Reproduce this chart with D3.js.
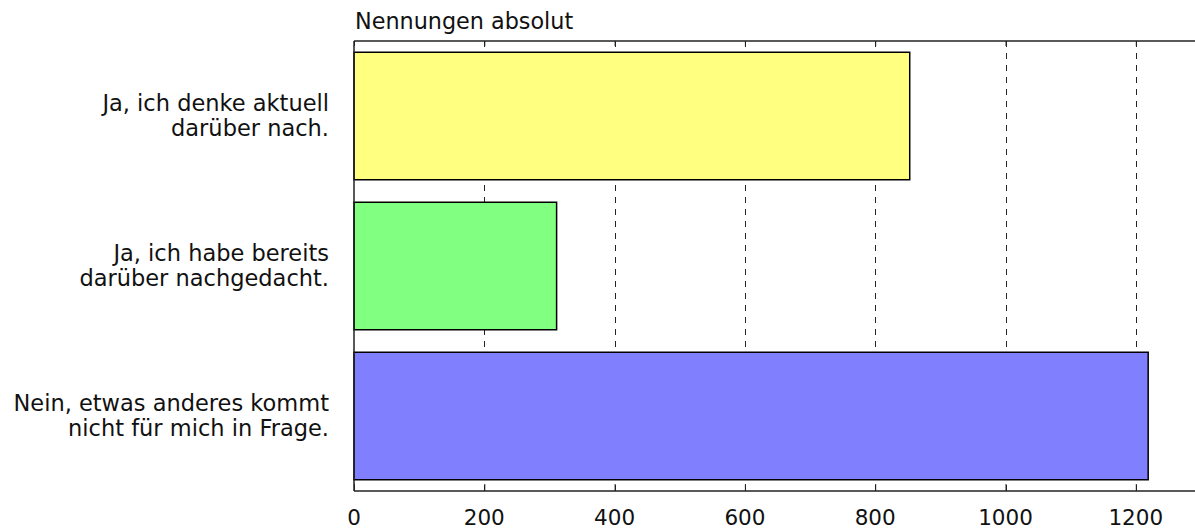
<!DOCTYPE html>
<html>
<head>
<meta charset="utf-8">
<script src="https://cdn.jsdelivr.net/npm/d3@7"></script>
<style>
  body { margin: 0; background: #fff; }
  text { font-family: "DejaVu Sans", Verdana, sans-serif; fill: #111; }
</style>
</head>
<body>
<svg id="chart" width="1195" height="531"></svg>
<script>
// answer categories (two text lines each)
const categories = [
  ["Ja, ich denke aktuell", "darüber nach."],
  ["Ja, ich habe bereits", "darüber nachgedacht."],
  ["Nein, etwas anderes kommt", "nicht für mich in Frage."]
];
const counts = [853, 311, 1219];
const barColors = ["#ffff80", "#80ff80", "#8080ff"];
const tickValues = [0, 200, 400, 600, 800, 1000, 1200];
const axisTitle = "Nennungen absolut";

const svg = d3.select("#chart");
const plotLeft = 354, plotTop = 41, plotBottom = 491;

const xScale = d3.scaleLinear().domain([0, 1300]).range([plotLeft, plotLeft + 1300 * 0.6515]);
const yScale = d3.scaleBand()
    .domain(d3.range(categories.length))
    .range([plotTop, plotBottom])
    .paddingInner(0.15)
    .paddingOuter(0.075);

// dashed grid lines behind the bars
svg.selectAll(".grid")
    .data(tickValues.filter(d => d > 0))
    .enter()
    .append("line")
    .attr("class", "grid")
    .attr("x1", d => Math.round(xScale(d)) + 0.5)
    .attr("x2", d => Math.round(xScale(d)) + 0.5)
    .attr("y1", plotTop)
    .attr("y2", plotBottom)
    .style("stroke", "#222")
    .style("stroke-width", 1)
    .style("stroke-dasharray", "6,6");

// bars
svg.selectAll(".bar")
    .data(counts)
    .enter()
    .append("rect")
    .attr("class", "bar")
    .attr("x", xScale(0))
    .attr("y", (d, i) => yScale(i))
    .attr("width", d => xScale(d) - xScale(0))
    .attr("height", yScale.bandwidth())
    .style("fill", (d, i) => barColors[i])
    .style("stroke", "#000")
    .style("stroke-width", 1.5);

// frame lines: top, bottom, left
const axisLines = [
  [xScale(0), plotTop, 1195, plotTop],
  [xScale(0), plotBottom, 1195, plotBottom],
  [xScale(0), plotTop, xScale(0), plotBottom]
];
svg.selectAll(".frame")
    .data(axisLines)
    .enter()
    .append("line")
    .attr("x1", d => d[0]).attr("y1", d => d[1])
    .attr("x2", d => d[2]).attr("y2", d => d[3])
    .style("stroke", "#222")
    .style("stroke-width", 1.5);

// top and bottom axes with inward ticks
const topAxis = d3.axisBottom(xScale).tickValues(tickValues).tickSize(5).tickFormat("");
svg.append("g").attr("transform", `translate(0,${plotTop})`).call(topAxis)
    .call(g => g.select(".domain").remove())
    .selectAll("line").style("stroke", "#222");

const bottomAxis = d3.axisTop(xScale).tickValues(tickValues).tickSize(7).tickFormat("");
svg.append("g").attr("transform", `translate(0,${plotBottom})`).call(bottomAxis)
    .call(g => g.select(".domain").remove())
    .selectAll("line").style("stroke", "#222");

// tick labels
svg.selectAll(".tickLabel")
    .data(tickValues)
    .enter()
    .append("text")
    .attr("x", d => xScale(d))
    .attr("y", 525)
    .attr("text-anchor", "middle")
    .style("font-size", "21.5px")
    .text(d => d);

// category labels
const labels = svg.selectAll(".catLabel")
    .data(categories)
    .enter()
    .append("text")
    .attr("text-anchor", "end")
    .style("font-size", "22.5px");
labels.each(function(d, i) {
  const cy = yScale(i) + yScale.bandwidth() / 2;
  d3.select(this).selectAll("tspan")
    .data(d)
    .enter()
    .append("tspan")
    .attr("x", 329)
    .attr("y", (t, j) => cy - 5 + j * 25)
    .text(t => t);
});

// axis title
svg.append("text")
    .attr("x", 355)
    .attr("y", 29)
    .style("font-size", "22.3px")
    .text(axisTitle);
</script>
</body>
</html>
